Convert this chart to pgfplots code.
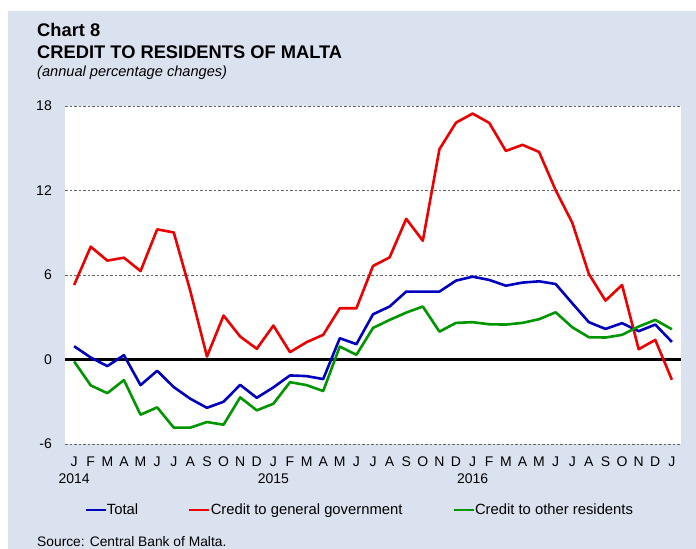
\documentclass[border=0pt]{standalone}
\usepackage{fontspec}
\setmainfont{Liberation Sans}
\usepackage{pgfplots}
\pgfplotsset{compat=1.18}
\definecolor{bgblue}{RGB}{219,226,239}
\definecolor{cred}{RGB}{236,0,0}
\definecolor{cblue}{RGB}{0,0,190}
\definecolor{cgreen}{RGB}{0,150,0}
\pgfplotstableread{
m total gov other
0 0.94 5.29 -0.14
1 0.14 8.01 -1.84
2 -0.47 7.02 -2.39
3 0.31 7.23 -1.46
4 -1.82 6.28 -3.92
5 -0.80 9.24 -3.40
6 -1.96 9.02 -4.84
7 -2.79 4.85 -4.84
8 -3.43 0.21 -4.44
9 -3.00 3.12 -4.63
10 -1.80 1.63 -2.69
11 -2.72 0.76 -3.61
12 -1.98 2.41 -3.14
13 -1.13 0.52 -1.61
14 -1.18 1.23 -1.82
15 -1.39 1.75 -2.24
16 1.51 3.64 0.92
17 1.09 3.64 0.33
18 3.21 6.64 2.24
19 3.76 7.25 2.81
20 4.82 9.99 3.33
21 4.82 8.43 3.76
22 4.82 14.93 1.98
23 5.60 16.82 2.60
24 5.88 17.46 2.65
25 5.65 16.80 2.50
26 5.24 14.81 2.48
27 5.46 15.24 2.60
28 5.55 14.74 2.86
29 5.36 12.02 3.35
30 3.99 9.71 2.29
31 2.65 6.07 1.58
32 2.17 4.18 1.56
33 2.58 5.29 1.75
34 2.01 0.73 2.34
35 2.48 1.39 2.81
36 1.25 -1.44 2.15
}\datatable
\begin{document}
\begin{tikzpicture}[x=1bp,y=1bp]
\fill[white] (0,0) rectangle (696,549);
\fill[bgblue] (8,0) rectangle (696,538);
\node[anchor=base west, inner sep=0pt, font=\fontsize{18.3bp}{22bp}\selectfont\bfseries] at (37,512) {Chart 8};
\node[anchor=base west, inner sep=0pt, font=\fontsize{18.3bp}{22bp}\selectfont\bfseries] at (37,490) {CREDIT TO RESIDENTS OF MALTA};
\node[anchor=base west, inner sep=0pt, font=\fontsize{14.6bp}{17bp}\selectfont\itshape] at (37,472) {(annual percentage changes)};
\node[anchor=base west, inner sep=0pt, font=\fontsize{13.8bp}{16bp}\selectfont] at (37,2.5) {Source: Central Bank of Malta.};
\begin{axis}[
  at={(65bp,105bp)}, anchor=south west,
  scale only axis, width=616bp, height=338bp,
  xmin=-0.55, xmax=36.55, ymin=-6, ymax=18,
  axis line style={draw=none},
  axis background/.style={fill=white},
  major tick length=0pt,
  ytick={-6,0,6,12,18},
  yticklabels={-6,0,6,12,18},
  ymajorgrids,
  grid style={dash pattern=on 2.5bp off 2bp, line width=0.8bp, color=black!60},
  xtick={0,...,36},
  xticklabels={{J\\2014},F,M,A,M,J,J,A,S,O,N,D,{J\\2015},F,M,A,M,J,J,A,S,O,N,D,{J\\2016},F,M,A,M,J,J,A,S,O,N,D,J},
  xticklabel style={font=\fontsize{14bp}{17bp}\selectfont, align=center, anchor=north, inner sep=0pt, yshift=-13bp},
  yticklabel style={font=\fontsize{14bp}{17bp}\selectfont, anchor=east, inner sep=0pt, xshift=-13bp},
  legend columns=3,
  legend cell align=left,
  legend style={at={(0.031,-0.195)}, anchor=west, draw=none, fill=none, inner sep=0pt,
    font=\fontsize{14.8bp}{17bp}\selectfont, nodes={inner sep=0pt},
    /tikz/every even column/.append style={column sep=50bp},
    /tikz/every odd column/.append style={column sep=0bp}},
  legend image code/.code={\draw[#1, line width=2.6bp] (0bp,0bp) -- (20bp,0bp);},
  every axis plot/.append style={line width=2.6bp, line join=round},
]
\addplot[black, line width=2.2bp, forget plot] coordinates {(-0.55,0) (36.55,0)};
\addplot[cblue] table[x=m, y=total] {\datatable};
\addlegendentry{Total}
\addplot[cred] table[x=m, y=gov] {\datatable};
\addlegendentry{Credit to general government}
\addplot[cgreen] table[x=m, y=other] {\datatable};
\addlegendentry{Credit to other residents}
\end{axis}
\pgfresetboundingbox
\path[use as bounding box] (0,0) rectangle (696,549);
\end{tikzpicture}
\end{document}
